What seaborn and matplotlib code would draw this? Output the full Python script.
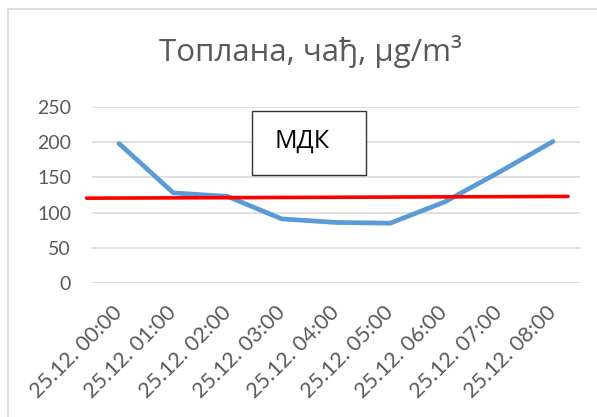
import matplotlib
matplotlib.use("Agg")
import matplotlib.pyplot as plt
import seaborn as sns
import pandas as pd
from matplotlib.lines import Line2D
from matplotlib.patches import Rectangle

# ---- data ----
categories = ["25.12. 00:00", "25.12. 01:00", "25.12. 02:00", "25.12. 03:00",
              "25.12. 04:00", "25.12. 05:00", "25.12. 06:00", "25.12. 07:00",
              "25.12. 08:00"]
values = [198, 128, 123, 91, 86, 85, 115, 157, 201]
mdk_x = [-0.6, 8.28]
mdk_y = [120.5, 123]
yticks = [0, 50, 100, 150, 200, 250]
title = "Топлана, чађ, µg/m³"
box_label = "МДК"

sns.set_theme(style="white")
plt.rcParams['font.family'] = ['Open Sans', 'Noto Sans', 'DejaVu Sans']
tick_family = ['Lato', 'Open Sans', 'DejaVu Sans']

fig = plt.figure(figsize=(5.97, 4.17), dpi=100)
ax = fig.add_axes([92/597, 1-283/417, 488/597, 176/417])

df = pd.DataFrame({"x": range(len(categories)), "y": values})
sns.lineplot(data=df, x="x", y="y", ax=ax, color="#5b9bd5", linewidth=3.4,
             solid_capstyle="round", solid_joinstyle="round", zorder=3)
ax.plot(mdk_x, mdk_y, color="#ff0000", linewidth=2.6, zorder=4, clip_on=False)

ax.set_xlim(-0.5, len(categories) - 0.5)
ax.set_ylim(0, 250)
ax.set_yticks(yticks)
ax.set_yticklabels([str(v) for v in yticks], fontsize=14, color="#595959",
                   family=tick_family)
ax.set_xticks(range(len(categories)))
ax.set_xticklabels(categories, rotation=45, ha="right", va="center",
                   rotation_mode="anchor", fontsize=15.5, color="#595959",
                   family=tick_family)
ax.tick_params(axis="both", length=0)
ax.tick_params(axis="y", pad=15)
ax.tick_params(axis="x", pad=19)
ax.set_xlabel("")
ax.set_ylabel("")
for s in ax.spines.values():
    s.set_visible(False)
ax.yaxis.grid(True, color="#d9d9d9", linewidth=1.2)
ax.xaxis.grid(False)
ax.set_axisbelow(True)

fig.text(310/597, 1-51/417, title, ha="center", va="center", fontsize=22.5,
         color="#595959")

# MDK text box
fig.text(302/597, 1-141/417, box_label, ha="center", va="center", fontsize=18,
         color="black", zorder=6)
fig.add_artist(Rectangle((252/597, 1-175/417), 114/597, 64/417,
                         transform=fig.transFigure, facecolor="white",
                         edgecolor="#333333", linewidth=1.0, zorder=5))

# outer chart frame (cropped on right and bottom)
fig.add_artist(Line2D([8/597, 1.0], [1-9/417, 1-9/417], transform=fig.transFigure,
                      color="#d9d9d9", linewidth=1.2))
fig.add_artist(Line2D([8/597, 8/597], [0, 1-9/417], transform=fig.transFigure,
                      color="#d9d9d9", linewidth=1.2))

fig.savefig("out.png", dpi=100)
